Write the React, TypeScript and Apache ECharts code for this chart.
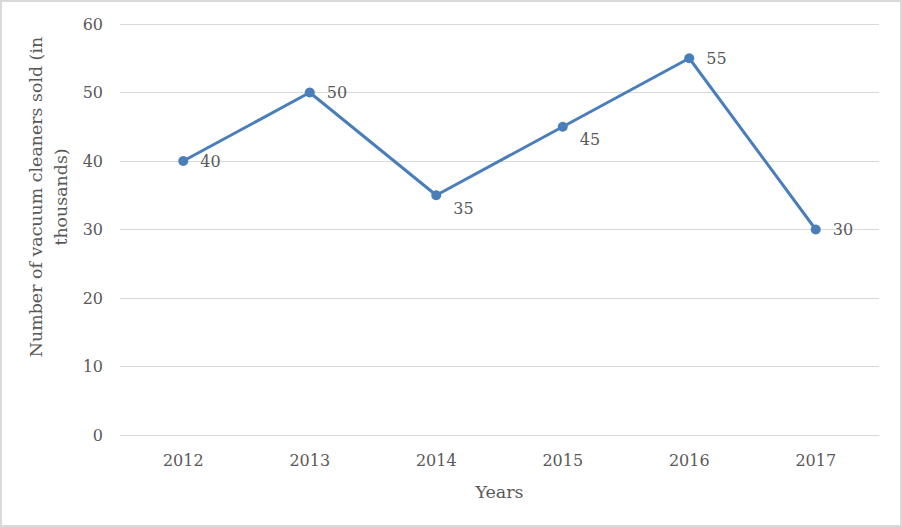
import React, { useEffect, useRef } from "react";
import * as echarts from "echarts";

const years = ["2012", "2013", "2014", "2015", "2016", "2017"];
const sold = [40, 50, 35, 45, 55, 30];
const yTicks = { min: 0, max: 60, interval: 10 };
const xTitle = "Years";
const yTitle = "Number of vacuum cleaners sold (in\nthousands)";
const belowLabelIdx = [2, 3];

export default function App() {
  const ref = useRef<HTMLDivElement>(null);
  useEffect(() => {
    if (!ref.current) return;
    const chart = echarts.init(ref.current, undefined, { renderer: "svg" });
    const font = "'DejaVu Serif', serif";
    const txt = "#595959";
    chart.setOption({
      animation: false,
      backgroundColor: "#ffffff",
      grid: { left: 120, right: 23, top: 24, bottom: 92 },
      xAxis: {
        type: "category",
        data: years,
        boundaryGap: true,
        axisLine: { show: true, lineStyle: { color: "#d9d9d9", width: 1 } },
        axisTick: { show: false },
        axisLabel: { color: txt, fontFamily: font, fontSize: 16, margin: 17 },
        name: xTitle,
        nameLocation: "middle",
        nameGap: 48,
        nameTextStyle: { color: txt, fontFamily: font, fontSize: 17.5 },
      },
      yAxis: {
        type: "value",
        min: yTicks.min,
        max: yTicks.max,
        interval: yTicks.interval,
        axisLine: { show: false },
        axisTick: { show: false },
        splitLine: { lineStyle: { color: "#d9d9d9", width: 1 } },
        axisLabel: { color: txt, fontFamily: font, fontSize: 16, margin: 17 },
      },
      graphic: [
        {
          type: "rect",
          shape: { x: 1, y: 1, width: 900, height: 525 },
          style: { fill: "none", stroke: "#d9d9d9", lineWidth: 2 },
          silent: true,
        },
        {
          type: "text",
          x: 48,
          y: 197,
          rotation: Math.PI / 2,
          style: {
            text: yTitle,
            fill: txt,
            font: `17.4px ${font}`,
            textAlign: "center",
            textVerticalAlign: "middle",
            lineHeight: 25,
          },
        },
      ],
      series: [
        {
          type: "line",
          data: sold.map((v, i) => ({
            value: v,
            label: belowLabelIdx.includes(i) ? { offset: [0, 13] } : undefined,
          })),
          symbol: "circle",
          symbolSize: 10,
          lineStyle: { color: "#4a7ebb", width: 3 },
          itemStyle: { color: "#4a7ebb" },
          label: {
            show: true,
            position: "right",
            distance: 12,
            color: txt,
            fontFamily: font,
            fontSize: 16,
          },
        },
      ],
    });
    return () => chart.dispose();
  }, []);
  return (
    <div
      ref={ref}
      style={{ position: "absolute", left: 0, top: 0, width: 902, height: 527 }}
    />
  );
}
